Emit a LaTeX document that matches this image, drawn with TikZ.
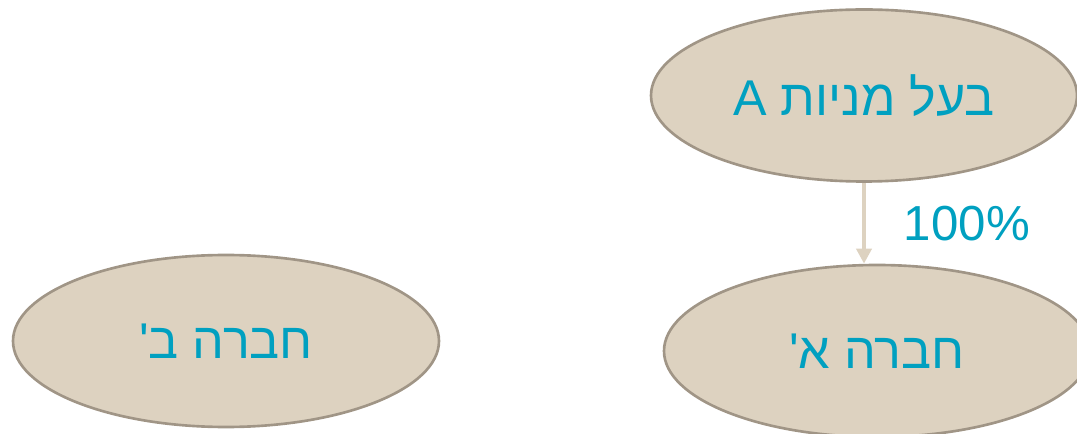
\documentclass[tikz,border=0pt]{standalone}
\usepackage{fontspec}
\newfontfamily\hebfont[Script=Hebrew]{Liberation Sans}
\TeXXeTstate=1
\usetikzlibrary{shapes.geometric,arrows.meta,positioning}

\definecolor{sand}{RGB}{221,210,192}
\definecolor{sandline}{RGB}{160,149,134}
\definecolor{teal}{RGB}{0,160,192}

\begin{document}
\begin{tikzpicture}[
  firm/.style = {ellipse, draw=sandline, fill=sand, line width=0.75pt,
                 minimum width=4.26cm, minimum height=1.72cm, inner sep=0pt,
                 text=teal, font=\hebfont\fontsize{14.3}{16}\selectfont},
  share/.style = {draw=sand, line width=1.1pt, -{Triangle[width=0.15cm,length=0.15cm]}},
  pct/.style = {text=teal, inner sep=0pt, font=\hebfont\fontsize{14}{16}\selectfont}
]
\useasboundingbox (0,0) rectangle (10.77,4.33);

% owner
  \node[firm] (owner) at (8.64,3.375) {\beginR בעל מניות A\endR};

% companies
  \node[firm] (compA) at (8.77,0.82) {\beginR חברה א'\endR};
  \node[firm] (compB) at (2.26,0.92) {\beginR חברה ב'\endR};

% holding
  \draw[share] (owner.south) -- (owner.south |- compA.north)
    node[pct, midway, right=0.38cm] {100\%};

\end{tikzpicture}
\end{document}
